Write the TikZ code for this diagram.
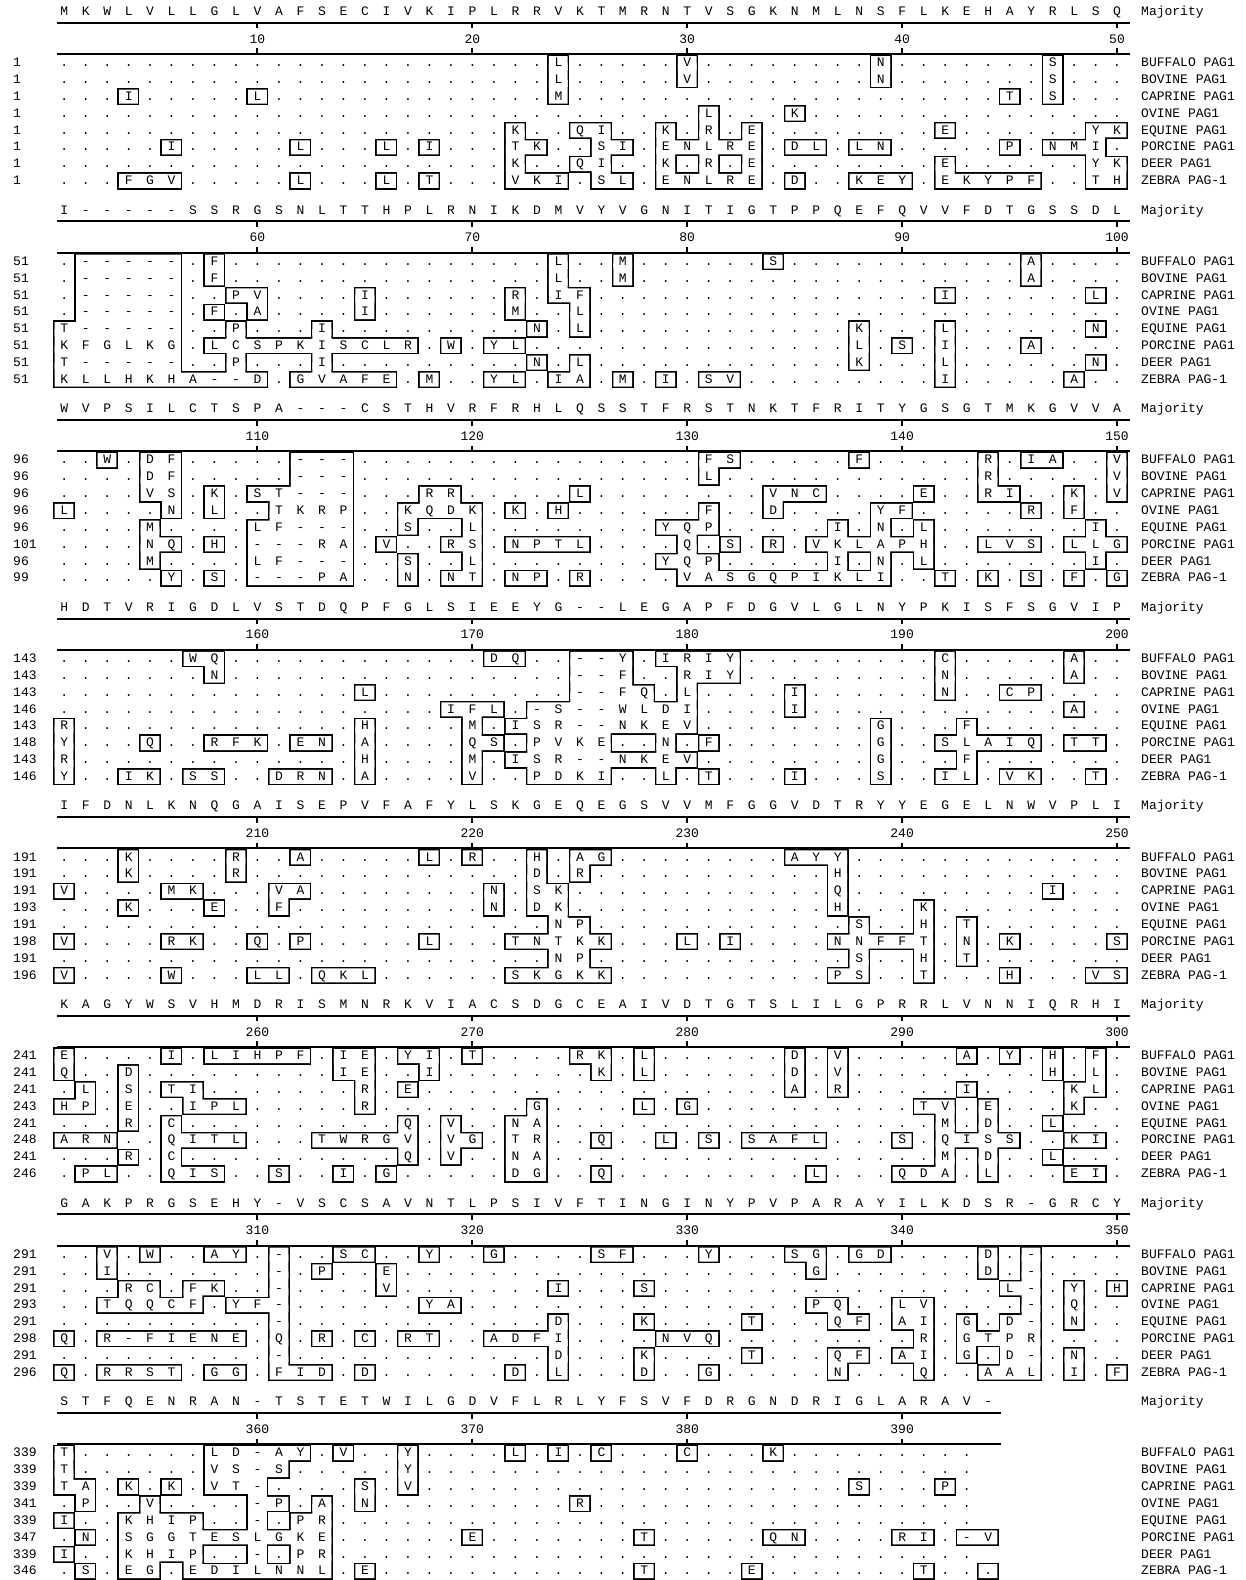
\documentclass[tikz,border=0pt]{standalone}
\usepackage{fontspec}
\setmonofont{Liberation Mono}

\pgfdeclarelayer{paper}
\pgfdeclarelayer{boxline}
\pgfdeclarelayer{boxfill}
\pgfsetlayers{paper,boxline,boxfill,main}

\tikzset{
  res/.style={font=\ttfamily\fontsize{13}{13}\selectfont, inner sep=0pt, text height=7.4pt, text depth=0pt},
  lbl/.style={res, anchor=west},
  rule/.style={line width=2pt},
  boxedge/.style={line width=3.2pt},
}

\newcount\rescol
\def\rowgap{16.85}

\newcommand\seqblock[1]{\def\blkno{#1}\pgfmathsetmacro\blky{11.7+(#1-1)*198.6}}

\newcommand\cell[1]{\hbox to 21.49pt{\hss#1\hss}}
\newcommand\addtxt[1]{\xdef\rowtxt{\unexpanded\expandafter{\rowtxt}\noexpand\cell{#1}}}
\newcommand\addrect[4]{\xdef\rowpath{\rowpath (#1,#2) rectangle (#3,#4)}}

\newcommand\boxcell{%
  \pgfmathsetmacro\rx{64+(\the\rescol-1)*21.49}%
  \expandafter\gdef\csname bx\blkno-\resrow-\the\rescol\endcsname{}%
  \edef\lftcell{bx\blkno-\resrow-\the\numexpr\rescol-1\relax}%
  \edef\uppcell{bx\blkno-\the\numexpr\resrow-1\relax-\the\rescol}%
  \edef\diacell{bx\blkno-\the\numexpr\resrow-1\relax-\the\numexpr\rescol-1\relax}%
  \addrect{\rx-9.4}{\ry-7}{\rx+9.4}{\ry+7}%
  \ifcsname\lftcell\endcsname\addrect{\rx-21.49}{\ry-7}{\rx}{\ry+7}\fi
  \ifcsname\uppcell\endcsname\addrect{\rx-9.4}{\ry-\rowgap}{\rx+9.4}{\ry}\fi
  \ifcsname\lftcell\endcsname\ifcsname\uppcell\endcsname\ifcsname\diacell\endcsname
    \addrect{\rx-21.49}{\ry-\rowgap}{\rx}{\ry}\fi\fi\fi}

\newcommand\putres[1]{%
  \global\advance\rescol by 1
  \if#1.\addtxt{.}%
  \else\if#1-\addtxt{-}%
  \else\if#1=\addtxt{-}\boxcell
  \else\if#1:\addtxt{.}\boxcell
  \else\addtxt{#1}\boxcell
  \fi\fi\fi\fi}

\def\scanres#1{\ifx\relax#1\let\resnext\relax\else\def\resnext{\putres{#1}\scanres}\fi\resnext}
\def\scanmaj#1{\ifx\relax#1\let\resnext\relax\else\def\resnext{\addtxt{#1}\scanmaj}\fi\resnext}

\newcommand\seqrow[3]{%
  \def\resrow{#1}\global\rescol=0
  \gdef\rowtxt{}\gdef\rowpath{}%
  \pgfmathsetmacro\ry{\blky+51.3+(#1-1)*\rowgap}%
  \scanres#3\relax
  \begin{pgfonlayer}{boxline}\edef\tmppath{\noexpand\draw[boxedge] \rowpath;}\tmppath\end{pgfonlayer}
  \begin{pgfonlayer}{boxfill}\edef\tmppath{\noexpand\fill[white] \rowpath;}\tmppath\end{pgfonlayer}
  \node[lbl] (n\blkno r#1) at (13,\ry) {#2};
  \node[lbl] (s\blkno r#1) at (53.255,\ry) {\rowtxt};}

\newcommand\majrow[1]{%
  \global\rescol=0 \gdef\rowtxt{}%
  \scanmaj#1\relax
  \node[lbl] (m\blkno) at (53.255,\blky) {\rowtxt};
  \node[lbl] (maj\blkno) at (1141,\blky) {Majority};}

\newcommand\ruler[1]{%
  \pgfmathsetmacro\rend{64+(#1-1)*21.49+13}%
  \draw[rule] (57,\blky+11) -- (\rend,\blky+11);
  \draw[rule] (57,\blky+42.3) -- (\rend,\blky+42.3);
  \foreach \k in {10,20,...,#1} {
    \pgfmathsetmacro\tx{64+(\k-1)*21.49}
    \pgfmathtruncatemacro\tnum{(\blkno-1)*50+\k}
    \draw[rule] (\tx,\blky+11) -- (\tx,\blky+16.6);
    \draw[rule] (\tx,\blky+36.7) -- (\tx,\blky+42.3);
    \node[res] (t\blkno c\k) at (\tx,\blky+27.6) {\tnum};
  }}

\newcommand\seqnames{%
  \foreach \nm [count=\ri] in {BUFFALO PAG1,BOVINE PAG1,CAPRINE PAG1,OVINE PAG1,EQUINE PAG1,PORCINE PAG1,DEER PAG1,ZEBRA PAG-1}
    \node[lbl] (l\blkno r\ri) at (1141,{\blky+51.3+(\ri-1)*\rowgap}) {\nm};}

\begin{document}
\begin{tikzpicture}[x=1pt,y=-1pt]
\begin{pgfonlayer}{paper}\fill[white] (0,0) rectangle (1246,1580);\end{pgfonlayer}
\useasboundingbox (0,0) rectangle (1246,1580);

\seqblock{1}
\ruler{50}
\majrow{MKWLVLLGLV AFSECIVKIP LRRVKTMRNT VSGKNMLNSF LKEHAYRLSQ}
\seqnames
\seqrow{1}{1}{.......... .......... ...L.....V ........N. ......S...}
\seqrow{2}{1}{.......... .......... ...L.....V ........N. ......S...}
\seqrow{3}{1}{...I.....L .......... ...M...... .......... ....T.S...}
\seqrow{4}{1}{.......... .......... .......... L...K..... ..........}
\seqrow{5}{1}{.......... .......... .K..QI..K. R.E....... .E......YK}
\seqrow{6}{1}{.....I.... .L...L.I.. .TK..SI.EN LRE.DL.LN. ....P.NMI.}
\seqrow{7}{1}{.......... .......... .K..QI..K. R.E....... .E......YK}
\seqrow{8}{1}{...FGV.... .L...L.T.. .VKI.SL.EN LRE.D..KEY .EKYPF..TH}

\seqblock{2}
\ruler{50}
\majrow{I-----SSRG SNLTTHPLRN IKDMVYVGNI TIGTPPQEFQ VVFDTGSSDL}
\seqnames
\seqrow{1}{51}{.=====.F.. .......... ...L..M... ...S...... .....A....}
\seqrow{2}{51}{.=====.F.. .......... ...L..M... .......... .....A....}
\seqrow{3}{51}{.=====..PV ....I..... .R.IF..... .......... .I......L.}
\seqrow{4}{51}{.=====.F.A ....I..... .M..L..... .......... ..........}
\seqrow{5}{51}{T=====..P. ..I....... ..N.L..... .......K.. .L......N.}
\seqrow{6}{51}{KFGLKG.LCS PKISCLR.W. YL........ .......L.S .I...A....}
\seqrow{7}{51}{T=====..P. ..I....... ..N.L..... .......K.. .L......N.}
\seqrow{8}{51}{KLLHKHA==D .GVAFE.M.. YL.IA.M.I. SV........ .I.....A..}

\seqblock{3}
\ruler{50}
\majrow{WVPSILCTSP A---CSTHVR FRHLQSSTFR STNKTFRITY GSGTMKGVVA}
\seqnames
\seqrow{1}{96}{..W.DF.... .===...... .......... FS.....F.. ...R.IA..V}
\seqrow{2}{96}{....DF.... .===...... .......... L......... ...R.....V}
\seqrow{3}{96}{....VS.K.S T===...RR. ....L..... ...VNC.... E..RI..K.V}
\seqrow{4}{96}{L....N.L.. TKRP..KQDK .K.H...... F..D....YF .....R.F..}
\seqrow{5}{96}{....M....L F===..S..L ........YQ P.....I.N. L.......I.}
\seqrow{6}{101}{....NQ.H.= ==RA.V..RS .NPTL....Q .S.R.VKLAP H..LVS.LLG}
\seqrow{7}{96}{....M....L F===..S..L ........YQ P.....I.N. L.......I.}
\seqrow{8}{99}{.....Y.S.= ==PA..N.NT .NP.R....V ASGQPIKLI. .T.K.S.F.G}

\seqblock{4}
\ruler{50}
\majrow{HDTVRIGDLV STDQPFGLSI EEYG--LEGA PFDGVLGLNY PKISFSGVIP}
\seqnames
\seqrow{1}{143}{......WQ.. .......... DQ..==Y.IR IY........ .C.....A..}
\seqrow{2}{143}{.......N.. .......... ....==F..R IY........ .N.....A..}
\seqrow{3}{143}{.......... ....L..... ....==FQ.L ....I..... .N..CP....}
\seqrow{4}{146}{.......... ........IF L.=S==WLDI ....I..... .......A..}
\seqrow{5}{143}{R......... ....H....M .ISR==NKEV ........G. ..F.......}
\seqrow{6}{148}{Y...Q..RFK .EN.A....Q S.PVKE..N. F.......G. .SLAIQ.TT.}
\seqrow{7}{143}{R......... ....H....M .ISR==NKEV ........G. ..F.......}
\seqrow{8}{146}{Y..IK.SS.. DRN.A....V ..PDKI..L. T...I...S. .IL.VK..T.}

\seqblock{5}
\ruler{50}
\majrow{IFDNLKNQGA ISEPVFAFYL SKGEQEGSVV MFGGVDTRYY EGELNWVPLI}
\seqnames
\seqrow{1}{191}{...K....R. .A.....L.R ..H.AG.... ....AYY... ..........}
\seqrow{2}{191}{...K....R. .......... ..D.R..... ......H... ..........}
\seqrow{3}{191}{V....MK... VA........ N.SK...... ......Q... ......I...}
\seqrow{4}{193}{...K...E.. F......... N.DK...... ......H... K.........}
\seqrow{5}{191}{.......... .......... ...NP..... .......S.. H.T.......}
\seqrow{6}{198}{V....RK..Q .P.....L.. .TNTKK...L .I....NNFF T.N.K....S}
\seqrow{7}{191}{.......... .......... ...NP..... .......S.. H.T.......}
\seqrow{8}{196}{V....W...L L.QKL..... .SKGKK.... ......PS.. T...H...VS}

\seqblock{6}
\ruler{50}
\majrow{KAGYWSVHMD RISMNRKVIA CSDGCEAIVD TGTSLILGPR RLVNNIQRHI}
\seqnames
\seqrow{1}{241}{E....I.LIH PF.IE.YI.T ....RK.L.. ....D.V... ..A.Y.H.F.}
\seqrow{2}{241}{Q..D...... ...IE..I.. .....K.L.. ....D.V... ......H.L.}
\seqrow{3}{241}{.L.S.TI... ....R.E... .......... ....A.R... ..I....KL.}
\seqrow{4}{243}{HP.E..IPL. ....R..... ..G....L.G .......... TV.E...K..}
\seqrow{5}{241}{...R.C.... ......Q.V. .NA....... .......... .M.D..L...}
\seqrow{6}{248}{ARN..QITL. ..TWRGV.VG .TR..Q..L. S.SAFL...S .QISS..KI.}
\seqrow{7}{241}{...R.C.... ......Q.V. .NA....... .......... .M.D..L...}
\seqrow{8}{246}{.PL..QIS.. S..I.G.... .DG..Q.... .....L...Q DA.L...EI.}

\seqblock{7}
\ruler{50}
\majrow{GAKPRGSEHY -VSCSAVNTL PSIVFTINGI NYPVPARAYI LKDSR-GRCY}
\seqnames
\seqrow{1}{291}{..V.W..AY. =..SC..Y.. G....SF... Y...SG.GD. ...D.=....}
\seqrow{2}{291}{..I....... =.P..E.... .......... .....G.... ...D.=....}
\seqrow{3}{291}{...RC.FK.. =....V.... ...I...S.. .......... ....L=.Y.H}
\seqrow{4}{293}{..TQQCF.YF =......YA. .......... .....PQ..L V....=.Q..}
\seqrow{5}{291}{.......... =......... ...D...K.. ..T...QF.A I.G.D=.N..}
\seqrow{6}{298}{Q.R=FIENE. Q.R.C.RT.. ADFI....NV Q......... R.GTPR....}
\seqrow{7}{291}{.......... =......... ...D...K.. ..T...QF.A I.G.D=.N..}
\seqrow{8}{296}{Q.RRST.GG. FID.D..... .D.L...D.. G.....N... Q..AAL.I.F}

\seqblock{8}
\ruler{44}
\majrow{STFQENRAN- TSTETWILGD VFLRLYFSVF DRGNDRIGLA RAV-}
\seqnames
\seqrow{1}{339}{T......LD= AY.V..Y... .L.I.C...C ...K...... ...}
\seqrow{2}{339}{T......VS= S.....Y... .......... .......... ...}
\seqrow{3}{339}{TA.K.K.VT= ....S.V... .......... .......S.. .P.}
\seqrow{4}{341}{.P..V....= P.A.N..... ....R..... .......... ...}
\seqrow{5}{339}{I..KHIP..= .PR....... .......... .......... ...}
\seqrow{6}{347}{.N.SGGTESL GKE......E .......T.. ...QN....R I.=V}
\seqrow{7}{339}{I..KHIP..= .PR....... .......... .......... ...}
\seqrow{8}{346}{.S.EG.EDIL NNL.E..... .......T.. ..E....... T..:}
\end{tikzpicture}
\end{document}
